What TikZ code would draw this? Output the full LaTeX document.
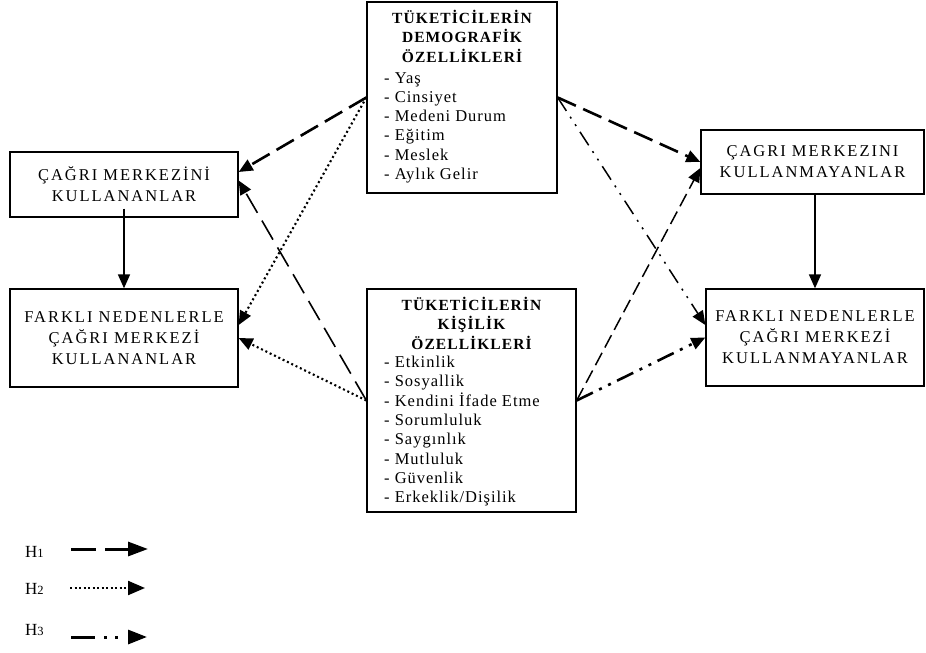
\documentclass[tikz,border=0pt]{standalone}
\usepackage{fontspec}
\setmainfont{Liberation Serif}
\newfontfamily\boxfont[LetterSpace=6]{Liberation Serif}
\newfontfamily\sidefont[LetterSpace=12]{Liberation Serif}
\newfontfamily\ttlfont[LetterSpace=7]{Liberation Serif}
\usetikzlibrary{arrows.meta,calc}
\begin{document}
\begin{tikzpicture}[x=1pt,y=-1pt,
  box/.style={draw, line width=1.3pt, rectangle, inner sep=0pt},
  lbl/.style={font={\sidefont\fontsize{16.5}{21}\selectfont}, align=center},
  ttl/.style={font={\ttlfont\bfseries\fontsize{15.5}{19.5}\selectfont}, align=center, inner sep=0pt},
  lst/.style={font={\boxfont\fontsize{16.5}{19.3}\selectfont}, align=left, inner sep=0pt},
  tip/.style={-{Triangle[length=14pt,width=12pt]}},
  conn/.style={line width=1.6pt},
  hone/.style={tip, line width=2.6pt, dash pattern=on 20pt off 8pt},
  honethin/.style={tip, line width=1.6pt, dash pattern=on 22pt off 9pt},
  htwo/.style={tip, line width=2.1pt, dash pattern=on 2pt off 2.8pt},
  hdash/.style={tip, line width=1.5pt, dash pattern=on 14pt off 6pt},
  hthreethin/.style={tip, line width=1.5pt, dash pattern=on 16pt off 7pt on 2pt off 7pt on 2pt off 7pt},
  hthree/.style={tip, line width=2.6pt, dash pattern=on 18pt off 7pt on 3pt off 7pt on 3pt off 7pt},
  leg/.style={font={\fontsize{17}{17}\selectfont}, inner sep=0pt, anchor=base west}
]
\useasboundingbox (0,0) rectangle (926,653);

% side boxes
\node[box, lbl, minimum width=228pt, minimum height=65pt] (lu) at (124,184.5) {ÇAĞRI MERKEZİNİ\\KULLANANLAR};
\node[box, lbl, minimum width=228pt, minimum height=98pt] (ll) at (124,338) {FARKLI NEDENLERLE\\ÇAĞRI MERKEZİ\\KULLANANLAR};
\node[box, lbl, minimum width=223pt, minimum height=64pt] (ru) at (812.5,162) {ÇAGRI MERKEZINI\\KULLANMAYANLAR};
\node[box, lbl, minimum width=218pt, minimum height=97pt] (rl) at (815,337.5) {FARKLI NEDENLERLE\\ÇAĞRI MERKEZİ\\KULLANMAYANLAR};

% center boxes
\node[box, minimum width=190pt, minimum height=191pt] (demo) at (462,97.5) {};
\node[ttl, anchor=north] (demotitle) at (462,10) {TÜKETİCİLERİN\\DEMOGRAFİK\\ÖZELLİKLERİ};
\node[lst, anchor=north west] (demolist) at (384,72) {- Yaş\\- Cinsiyet\\- Medeni Durum\\- Eğitim\\- Meslek\\- Aylık Gelir};

\node[box, minimum width=209pt, minimum height=223pt] (kisi) at (471.5,400.5) {};
\node[ttl, anchor=north] (kisititle) at (471.5,297) {TÜKETİCİLERİN\\KİŞİLİK\\ÖZELLİKLERİ};
\node[lst, anchor=north west] (kisilist) at (384,356) {- Etkinlik\\- Sosyallik\\- Kendini İfade Etme\\- Sorumluluk\\- Saygınlık\\- Mutluluk\\- Güvenlik\\- Erkeklik/Dişilik};

% vertical connectors
\draw[conn, tip] ($(lu.south)+(0,-9)$) -- (ll.north);
\draw[conn, tip] (ru.south -| rl.north) -- (rl.north);

% left side
\draw[hone] (demo.west) -- ($(lu.east)+(0,-12.5)$);
\draw[honethin] (kisi.west) -- ($(lu.east)+(0,-4)$);
\draw[htwo] (demo.west) -- ($(ll.east)+(0,-13)$);
\draw[htwo] (kisi.west) -- (ll.east);

% right side
\draw[hone] (demo.east) -- (ru.west);
\draw[hdash] (kisi.east) -- ($(ru.west)+(0,6)$);
\draw[hthreethin] (demo.east) -- ($(rl.west)+(0,-12.5)$);
\draw[hthree] (kisi.east) -- (rl.west);

% legend
\node[leg] (h1) at (25,557) {H{\fontsize{12.5}{12.5}\selectfont 1}};
\node[leg] (h2) at (25,594) {H{\fontsize{12.5}{12.5}\selectfont 2}};
\node[leg] (h3) at (25,635) {H{\fontsize{12.5}{12.5}\selectfont 3}};
\coordinate (l1a) at (71,549);
\coordinate (l1b) at (148,549);
\coordinate (l2a) at (70,588);
\coordinate (l2b) at (145,588);
\coordinate (l3a) at (71,637);
\coordinate (l3b) at (147,637);
\draw[line width=3pt, dash pattern=on 25pt off 9pt, -{Triangle[length=20pt,width=14pt]}] (l1a) -- (l1b);
\draw[line width=2.2pt, dash pattern=on 2pt off 2.5pt, -{Triangle[length=17pt,width=14pt]}] (l2a) -- (l2b);
\draw[line width=3pt, dash pattern=on 24pt off 9pt on 3pt off 8pt on 3pt off 20pt, -{Triangle[length=19pt,width=14pt]}] (l3a) -- (l3b);
\end{tikzpicture}
\end{document}
